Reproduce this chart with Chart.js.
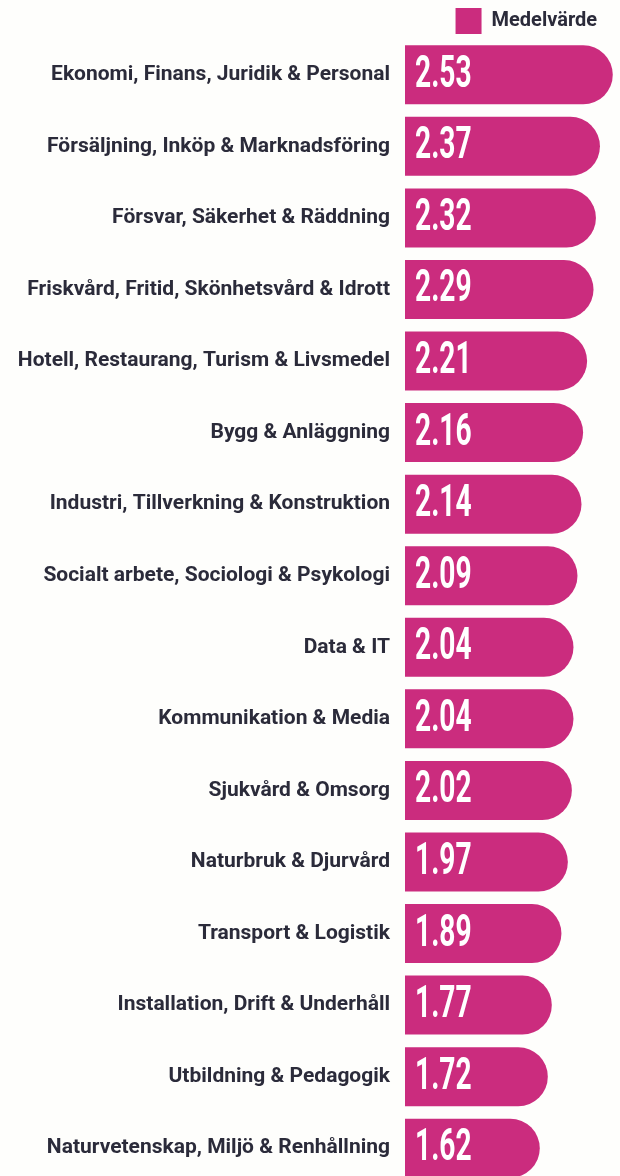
<!DOCTYPE html>
<html>
<head>
<meta charset="utf-8">
<script src="https://cdn.jsdelivr.net/npm/chart.js@4/dist/chart.umd.min.js"></script>
<style>
  html, body { margin:0; padding:0; background:#fefefc; overflow:hidden; }
  canvas { display:block; }
</style>
</head>
<body>
<canvas id="chart" width="620" height="1184"></canvas>
<script>
// ********* Data *********
const categories = [
  'Ekonomi, Finans, Juridik & Personal',
  'Försäljning, Inköp & Marknadsföring',
  'Försvar, Säkerhet & Räddning',
  'Friskvård, Fritid, Skönhetsvård & Idrott',
  'Hotell, Restaurang, Turism & Livsmedel',
  'Bygg & Anläggning',
  'Industri, Tillverkning & Konstruktion',
  'Socialt arbete, Sociologi & Psykologi',
  'Data & IT',
  'Kommunikation & Media',
  'Sjukvård & Omsorg',
  'Naturbruk & Djurvård',
  'Transport & Logistik',
  'Installation, Drift & Underhåll',
  'Utbildning & Pedagogik',
  'Naturvetenskap, Miljö & Renhållning'
];
const seriesName = 'Medelvärde';
const medelvarde = [2.53, 2.37, 2.32, 2.29, 2.21, 2.16, 2.14, 2.09, 2.04, 2.04, 2.02, 1.97, 1.89, 1.77, 1.72, 1.62];

const pink = '#cb2c7e';
const textColor = '#2b2b3a';

// ********* Value labels inside the bars *********
const valueLabels = {
  id: 'valueLabels',
  afterDatasetsDraw(chart) {
    const ctx = chart.ctx;
    const meta = chart.getDatasetMeta(0);
    ctx.save();
    ctx.fillStyle = '#ffffff';
    ctx.textBaseline = 'middle';
    ctx.textAlign = 'left';
    ctx.font = 'bold 44px Roboto';
    meta.data.forEach((bar, i) => {
      ctx.save();
      ctx.translate(bar.base + 10, bar.y + 1);
      ctx.scale(0.64, 1);
      ctx.fillText(medelvarde[i].toFixed(2), 0, 0);
      ctx.restore();
    });
    ctx.restore();
  }
};

const ctx = document.getElementById('chart').getContext('2d');
const chart = new Chart(ctx, {
  type: 'bar',
  data: {
    labels: categories,
    datasets: [{
      label: seriesName,
      data: medelvarde,
      base: -0.06,
      backgroundColor: pink,
      borderWidth: 0,
      borderRadius: 30,
      borderSkipped: 'start',
      barPercentage: 0.825,
      categoryPercentage: 1
    }]
  },
  options: {
    indexAxis: 'y',
    responsive: false,
    animation: false,
    layout: { padding: 0 },
    scales: {
      x: {
        display: false,
        min: -0.06,
        max: 2.62
      },
      y: {
        grid: { display: false, drawTicks: false },
        border: { display: false },
        ticks: {
          color: textColor,
          padding: 15,
          font: { family: 'Roboto', weight: 'bold', size: 21 }
        },
        afterFit: function(scale) {
          scale.width = 405;
          // labels sit mid-slot, no room needed above/below the axis
          scale.paddingTop = 0;
          scale.paddingBottom = 0;
        }
      }
    },
    plugins: {
      legend: {
        display: true,
        align: 'end',
        maxHeight: 39,
        labels: {
          boxWidth: 26,
          boxHeight: 26,
          padding: 8,
          color: textColor,
          font: { family: 'Roboto', weight: 'bold', size: 20 },
          // trailing spaces keep the legend text off the right edge
          generateLabels: function(chart) {
            const items = Chart.defaults.plugins.legend.labels.generateLabels(chart);
            items.forEach(item => { item.text = item.text + '   '; });
            return items;
          }
        }
      },
      tooltip: { enabled: false }
    }
  },
  plugins: [valueLabels]
});
</script>
</body>
</html>
